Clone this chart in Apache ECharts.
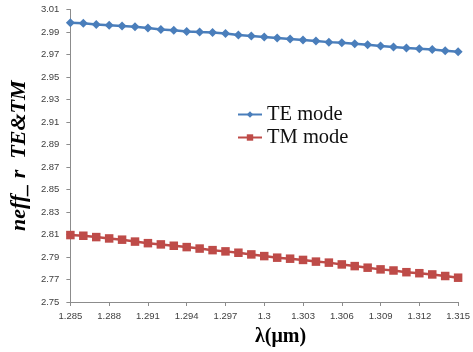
<!DOCTYPE html>
<html>
<head>
<meta charset="utf-8">
<script src="https://cdn.jsdelivr.net/npm/echarts@6/dist/echarts.min.js"></script>
<style>
  html, body { margin: 0; padding: 0; background: #ffffff; }
  #chart { width: 473px; height: 352px; }
</style>
</head>
<body>
<div id="chart"></div>
<script>
// Wavelength samples (µm), step 0.001
var wavelengths = [
  1.285, 1.286, 1.287, 1.288, 1.289, 1.290, 1.291, 1.292, 1.293, 1.294,
  1.295, 1.296, 1.297, 1.298, 1.299, 1.300, 1.301, 1.302, 1.303, 1.304,
  1.305, 1.306, 1.307, 1.308, 1.309, 1.310, 1.311, 1.312, 1.313, 1.314, 1.315
];

// Effective index, TE mode
var teMode = [
  2.9983, 2.9977, 2.9966, 2.9959, 2.9953, 2.9946, 2.9935, 2.9923, 2.9916, 2.9905,
  2.9899, 2.9896, 2.9887, 2.9873, 2.9864, 2.9855, 2.9846, 2.9837, 2.9828, 2.9819,
  2.9810, 2.9804, 2.9796, 2.9787, 2.9776, 2.9767, 2.9758, 2.9751, 2.9745, 2.9734, 2.9725
];

// Effective index, TM mode
var tmMode = [
  2.8095, 2.8089, 2.8077, 2.8065, 2.8054, 2.8037, 2.8023, 2.8012, 2.8000, 2.7988,
  2.7975, 2.7961, 2.7950, 2.7938, 2.7923, 2.7908, 2.7894, 2.7885, 2.7874, 2.7859,
  2.7850, 2.7834, 2.7819, 2.7805, 2.7790, 2.7780, 2.7765, 2.7756, 2.7745, 2.7731, 2.7716
];

var seriesNames = ['TE mode', 'TM mode'];
var xTitle = 'λ(μm)';
var yTitle = 'neff_ r  TE&TM';

function pairs(ys) {
  return wavelengths.map(function (x, i) { return [x, ys[i]]; });
}

var labelFont = { color: '#404040', fontSize: 9.5, fontFamily: 'Liberation Sans' };

var chart = echarts.init(document.getElementById('chart'), null, { renderer: 'canvas' });
chart.setOption({
  animation: false,
  backgroundColor: '#ffffff',
  grid: { left: 65, right: 9, top: 9.5, bottom: 50, containLabel: false },
  legend: {
    orient: 'vertical',
    left: 232,
    top: 99,
    itemWidth: 24,
    itemHeight: 8,
    itemGap: 2,
    data: seriesNames,
    textStyle: { fontFamily: 'Liberation Serif', fontSize: 20.5, color: '#111111' }
  },
  xAxis: {
    type: 'value',
    min: 1.285,
    max: 1.315,
    interval: 0.003,
    splitLine: { show: false },
    axisLine: { lineStyle: { color: '#8c8c8c', width: 1 } },
    axisTick: { show: true, length: 4, lineStyle: { color: '#8c8c8c' } },
    axisLabel: Object.assign({
      margin: 9,
      formatter: function (v) { return String(+v.toFixed(3)); }
    }, labelFont)
  },
  yAxis: {
    type: 'value',
    min: 2.75,
    max: 3.01,
    interval: 0.02,
    name: yTitle,
    nameLocation: 'middle',
    nameRotate: 90,
    nameGap: 30,
    nameTextStyle: {
      fontFamily: 'Liberation Serif',
      fontStyle: 'italic',
      fontWeight: 'bold',
      fontSize: 22,
      color: '#000000'
    },
    splitLine: { show: false },
    axisLine: { show: true, lineStyle: { color: '#8c8c8c', width: 1 } },
    axisTick: { show: true, length: 4, lineStyle: { color: '#8c8c8c' } },
    axisLabel: Object.assign({
      margin: 11,
      formatter: function (v) { return v.toFixed(2); }
    }, labelFont)
  },
  graphic: [{
    type: 'text',
    left: 255,
    top: 327,
    style: {
      text: xTitle,
      font: 'bold 20px "Liberation Serif"',
      fill: '#000000'
    }
  }],
  series: [
    {
      name: seriesNames[0],
      type: 'line',
      data: pairs(teMode),
      symbol: 'diamond',
      symbolSize: 9,
      color: '#4a7ebb',
      lineStyle: { width: 2.5, color: '#4a7ebb' },
      itemStyle: { color: '#4a7ebb' }
    },
    {
      name: seriesNames[1],
      type: 'line',
      data: pairs(tmMode),
      symbol: 'rect',
      symbolSize: 8.5,
      color: '#be4b48',
      lineStyle: { width: 2.5, color: '#be4b48' },
      itemStyle: { color: '#be4b48' }
    }
  ]
});
</script>
</body>
</html>
